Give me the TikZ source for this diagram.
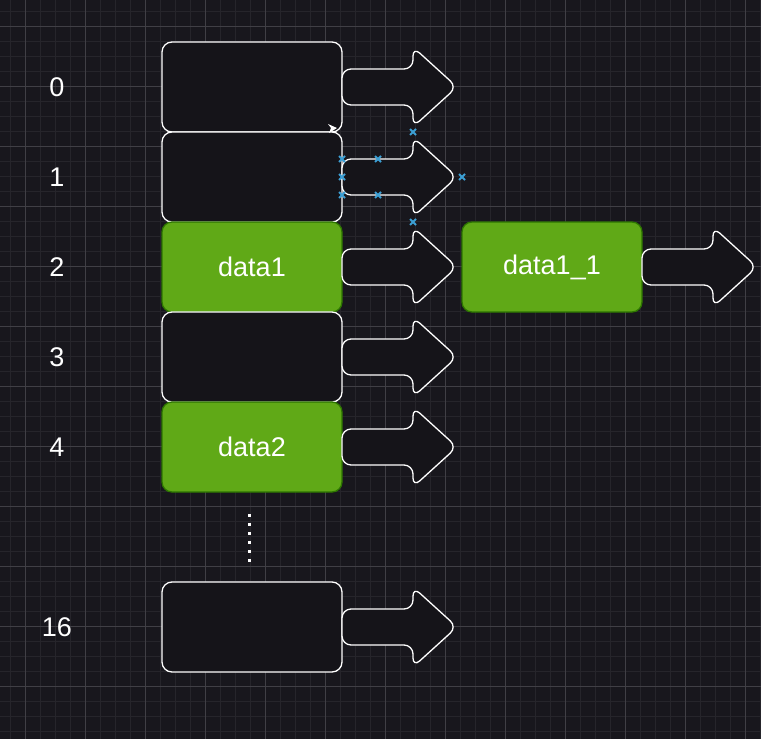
\documentclass[tikz,border=0pt]{standalone}
\usepackage{fontspec}
\setmainfont{Liberation Sans}
\usetikzlibrary{calc}
\definecolor{bg}{HTML}{18171D}
\definecolor{gminor}{HTML}{26252B}
\definecolor{gmajor}{HTML}{403F45}
\definecolor{boxfill}{HTML}{151419}
\definecolor{gfill}{HTML}{60A917}
\definecolor{gline}{HTML}{2D7600}
\definecolor{handle}{HTML}{3C9FD4}
\tikzset{
  cell/.style={draw=white, line width=1.3pt, fill=boxfill, rounded corners=10pt,
    minimum width=180pt, minimum height=90pt, inner sep=0pt, outer sep=0pt,
    text=white, font=\fontsize{27}{32}\selectfont},
  gcell/.style={cell, draw=gline, fill=gfill},
  idx/.style={text=white, font=\fontsize{27}{32}\selectfont, inner sep=0pt},
  arrowshape/.style={draw=white, line width=1.3pt, fill=boxfill, rounded corners=9pt},
  hmark/.style={draw=handle, line width=1.8pt},
}
\newcommand\harrow[1]{%
  \draw[arrowshape, shift={(#1.east)}] (0,-18) -- (71,-18) -- (71,-40) -- (115,0) -- (71,40) -- (71,18) -- (0,18) -- cycle;}
\newcommand\hx[1]{\draw[hmark] ($(#1)+(-3,-3)$) -- ($(#1)+(3,3)$) ($(#1)+(-3,3)$) -- ($(#1)+(3,-3)$);}
\begin{document}
\begin{tikzpicture}[x=1pt,y=-1pt]
\useasboundingbox (0,0) rectangle (761,739);
\fill[bg] (0,0) rectangle (761,739);
\foreach \i in {10,25,...,761} \draw[gminor, line width=0.8pt] (\i,0) -- (\i,739);
\foreach \i in {11,26,...,739} \draw[gminor, line width=0.8pt] (0,\i) -- (761,\i);
\foreach \i in {25,85,...,761} \draw[gmajor, line width=0.9pt] (\i,0) -- (\i,739);
\foreach \i in {26,86,...,739} \draw[gmajor, line width=0.9pt] (0,\i) -- (761,\i);

\node[cell] (b0) at (252,87) {};
\node[cell] (b1) at (252,177) {};
\node[gcell] (b2) at (252,267) {data1};
\node[cell] (b3) at (252,357) {};
\node[gcell] (b4) at (252,447) {data2};
\node[cell] (b16) at (252,627) {};
\node[gcell] (b21) at (552,267) {data1\_1};

\node[idx] (l0) at (57,87) {0};
\node[idx] (l1) at (57,177) {1};
\node[idx] (l2) at (57,267) {2};
\node[idx] (l3) at (57,357) {3};
\node[idx] (l4) at (57,447) {4};
\node[idx] (l16) at (57,627) {16};

\harrow{b0}
\harrow{b1}
\harrow{b2}
\harrow{b3}
\harrow{b4}
\harrow{b16}
\harrow{b21}

% selection handles on the arrow of row 1
\coordinate (h1) at ($(b1.east)+(0,-18)$);
\coordinate (h2) at (b1.east);
\coordinate (h3) at ($(b1.east)+(0,18)$);
\coordinate (h4) at ($(b1.east)+(36,-18)$);
\coordinate (h5) at ($(b1.east)+(36,18)$);
\coordinate (h6) at ($(b1.east)+(71,-45)$);
\coordinate (h7) at ($(b1.east)+(71,45)$);
\coordinate (h8) at ($(b1.east)+(120,0)$);
\foreach \h in {h1,h2,h3,h4,h5,h6,h7,h8} {\hx{\h}}

% small arrow tip at bottom right of row 0
\coordinate (tipc) at ($(b0.south east)+(-8,-4)$);
\fill[white] ($(tipc)+(-6,-4)$) -- ($(tipc)+(3,0)$) -- ($(tipc)+(-5,5)$) -- ($(tipc)+(-3,0)$) -- cycle;

% ellipsis dots
\coordinate (dtop) at (249,515);
\foreach \k in {0,...,5} \fill[white] ($(dtop)+(-1.5,{\k*9-1.5})$) rectangle ++(3,3);
\end{tikzpicture}
\end{document}
